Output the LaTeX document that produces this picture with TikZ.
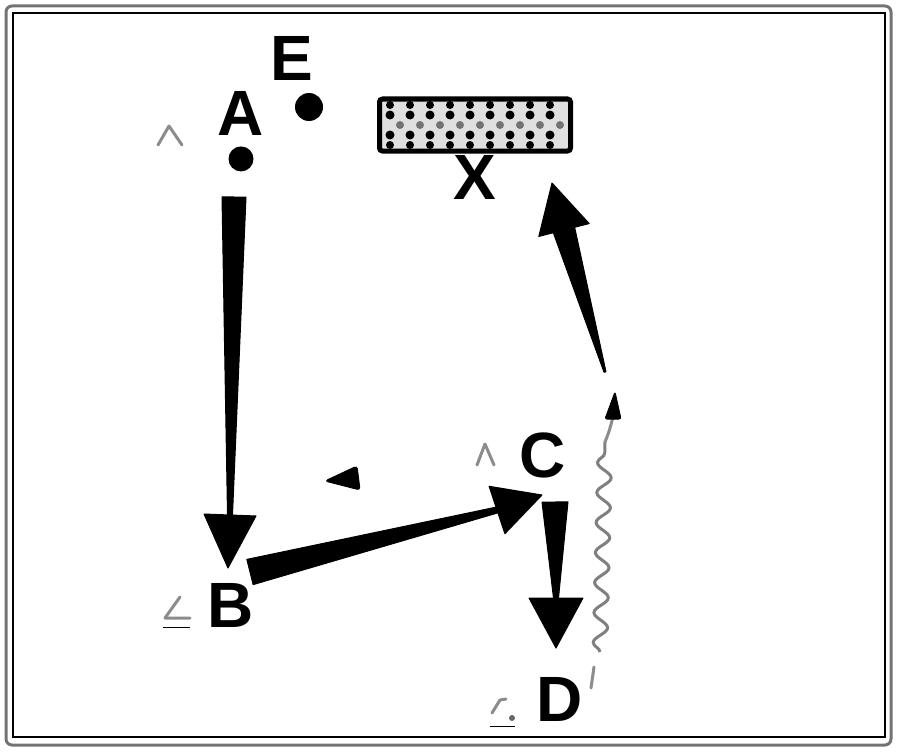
\documentclass[tikz,border=0pt]{standalone}
\usepackage{fontspec}
\setmainfont{Liberation Sans}
\usetikzlibrary{positioning, calc, decorations.pathmorphing}

\tikzset{
  lbl/.style={inner sep=0pt, font=\fontsize{64}{70}\selectfont\bfseries},
  spot/.style={circle, fill=black, inner sep=0pt},
  wedge/.style={fill=black, draw=black, line width=1pt, line join=round},
  faint/.style={draw=black!45, line width=3pt, line cap=round, line join=round},
  wavy/.style={draw=black!50, line width=3pt, decorate,
    decoration={snake, amplitude=7pt, segment length=30pt}},
}

\begin{document}
\begin{tikzpicture}[x=1pt, y=-1pt]
    \useasboundingbox (0,0) rectangle (900,752);
    % frame
    \draw[black!55, line width=3pt, rounded corners=6pt] (6,6) rectangle (891,745);
    \draw[black, line width=1.2pt] (13,13) rectangle (885,737);

    % letters and spots
    \node[lbl] (E) at (292,58) {E};
    \node[lbl] (A) at (241,113) {A};
    \node[lbl] (B) at (231,605) {B};
    \node[lbl] (C) at (543,455) {C};
    \node[lbl] (D) at (560,699) {D};
    \node[spot, minimum size=28pt] (e-spot) at (309,107) {};
    \node[spot, minimum size=25pt, below=11pt of A] (a-spot) {};

    % dotted box
    \node[draw, fill=black!12, line width=5pt, rounded corners=3pt, minimum width=191pt,
          minimum height=52pt, inner sep=0pt] (box) at (475,125) {};
    \foreach \y/\dx/\shade/\r in {105/0/black/4, 115/0/black/4.5, 125/10/black!55/4, 135/0/black/4.5, 145/0/black/4}
        \foreach \i in {0,...,8}
            \fill[\shade] (390+\dx+20*\i, \y) circle (\r pt);
    \node[lbl, below=2pt of box] (X) {X};

    % A to B
    \coordinate (ab-tail) at (234,197);
    \coordinate (ab-neck) at (230,515);
    \coordinate (ab-tip) at (228,568);
    \fill[wedge] ($(ab-tail)!12pt!90:(ab-neck)$) -- ($(ab-neck)!2.5pt!-90:(ab-tail)$)
        -- ($(ab-neck)!2.5pt!90:(ab-tail)$) -- ($(ab-tail)!12pt!-90:(ab-neck)$) -- cycle;
    \fill[wedge] ($(ab-neck)!26pt!90:(ab-tip)$) -- (ab-tip) -- ($(ab-neck)!26pt!-90:(ab-tip)$) -- cycle;

    % B to C
    \coordinate (bc-tail) at (250,572);
    \coordinate (bc-neck) at (497,510);
    \coordinate (bc-tip) at (542,495);
    \fill[wedge] ($(bc-tail)!13pt!90:(bc-neck)$) -- ($(bc-neck)!3pt!-90:(bc-tail)$)
        -- ($(bc-neck)!3pt!90:(bc-tail)$) -- ($(bc-tail)!13pt!-90:(bc-neck)$) -- cycle;
    \fill[wedge] ($(bc-neck)!25pt!90:(bc-tip)$) -- (bc-tip) -- ($(bc-neck)!25pt!-90:(bc-tip)$) -- cycle;

    % C to D
    \coordinate (cd-tail) at (555,502);
    \coordinate (cd-neck) at (556,598);
    \coordinate (cd-tip) at (556,648);
    \fill[wedge] ($(cd-tail)!13pt!90:(cd-neck)$) -- ($(cd-neck)!2.5pt!-90:(cd-tail)$)
        -- ($(cd-neck)!2.5pt!90:(cd-tail)$) -- ($(cd-tail)!13pt!-90:(cd-neck)$) -- cycle;
    \fill[wedge] ($(cd-neck)!27pt!90:(cd-tip)$) -- (cd-tip) -- ($(cd-neck)!27pt!-90:(cd-tip)$) -- cycle;

    % up to X
    \coordinate (x-tail) at (605,372);
    \coordinate (x-neck) at (564,230);
    \coordinate (x-tip) at (552,183);
    \fill[wedge] ($(x-tail)!1pt!90:(x-neck)$) -- ($(x-neck)!11pt!-90:(x-tail)$)
        -- ($(x-neck)!11pt!90:(x-tail)$) -- ($(x-tail)!1pt!-90:(x-neck)$) -- cycle;
    \fill[wedge] ($(x-neck)!26pt!90:(x-tip)$) -- (x-tip) -- ($(x-neck)!26pt!-90:(x-tip)$) -- cycle;

    % small head pointing left
    \fill[wedge, rounded corners=3pt] (325,481) -- (357,466) -- (360,490) -- cycle;

    % wavy line with small head
    \coordinate (wave-start) at (600,652);
    \coordinate (wave-end) at (605,442);
    \coordinate (wave-tip) at (615,392);
    \draw[wavy] (wave-start) -- (wave-end);
    \draw[faint] (wave-end) .. controls (609,432) .. (613,417);
    \fill[wedge, rounded corners=2pt] (wave-tip) -- (621,419) -- (605,419) -- cycle;

    % faint marks
    \draw[faint] (158,145) -- (169,126) -- (182,145);
    \draw[faint] (180,597) -- (165,618) -- (190,618);
    \draw[black, line width=1pt] (163,627) -- (190,627);
    \draw[faint] (477,465) -- (485,444) -- (494,465);
    \draw[faint] (492,713) -- (500,700) -- (506,699);
    \fill[black!60] (512,718) circle (3pt);
    \draw[black, line width=1pt] (490,726) -- (515,726);
    \draw[faint] (594,667) -- (591,688);
\end{tikzpicture}
\end{document}
